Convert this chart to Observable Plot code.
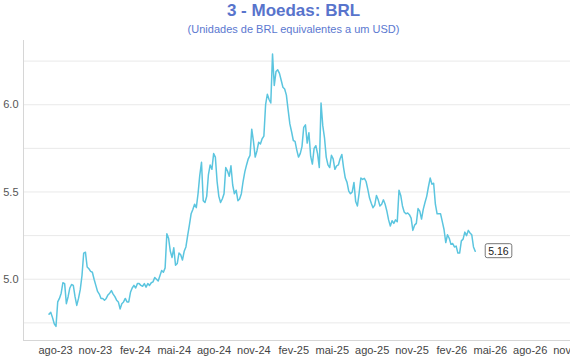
<!DOCTYPE html>
<html><head><meta charset="utf-8">
<script src="https://cdn.jsdelivr.net/npm/d3@7"></script>
<script src="https://cdn.jsdelivr.net/npm/@observablehq/plot@0.6"></script>
<style>
body{margin:0;background:#fff;font-family:"Liberation Sans",Arial,sans-serif;}
#wrap{width:570px;height:360px;position:relative;overflow:hidden;background:#fff}
.title{height:22px;line-height:22px;text-align:center;font-weight:bold;font-size:17px;color:#5874cc;padding-left:17px}
.subtitle{height:14px;line-height:14px;text-align:center;font-size:11px;color:#5b78d0;padding-left:17px}
#chart svg{display:block}
</style></head><body>
<div id="wrap">
<div class="title">3 - Moedas: BRL</div>
<div class="subtitle">(Unidades de BRL equivalentes a um USD)</div>
<div id="chart"></div>
</div>
<script>
// Series: BRL per USD, sampled every 4 days starting at startDate
const startDate = "2023-07-17";
const stepDays = 4;
const brl = [
4.80,4.81,4.78,4.745,4.73,4.87,4.89,4.92,4.98,4.975,
4.86,4.90,4.95,4.97,4.965,4.90,4.85,4.89,4.94,5.02,
5.15,5.155,5.07,5.06,5.045,5.04,5.00,4.965,4.93,4.915,
4.89,4.89,4.88,4.89,4.91,4.92,4.935,4.915,4.90,4.88,
4.87,4.83,4.86,4.87,4.89,4.87,4.87,4.925,4.95,4.965,
4.95,4.975,4.975,4.965,4.96,4.975,4.955,4.975,4.965,4.98,
4.985,5.01,5.00,4.99,5.02,5.05,5.04,5.065,5.26,5.235,
5.16,5.125,5.18,5.08,5.09,5.15,5.14,5.11,5.16,5.185,
5.25,5.31,5.375,5.40,5.43,5.41,5.49,5.595,5.67,5.45,
5.44,5.475,5.60,5.655,5.63,5.72,5.70,5.56,5.475,5.44,
5.46,5.49,5.64,5.62,5.59,5.65,5.54,5.49,5.51,5.45,
5.46,5.49,5.56,5.615,5.655,5.69,5.71,5.86,5.79,5.70,
5.735,5.785,5.775,5.805,5.82,6.00,6.06,6.03,6.01,6.29,
6.11,6.19,6.20,6.18,6.14,6.10,6.09,6.055,5.97,5.89,
5.845,5.795,5.79,5.74,5.70,5.72,5.76,5.87,5.885,5.78,
5.84,5.705,5.66,5.75,5.765,5.72,5.64,6.01,5.88,5.81,
5.70,5.655,5.64,5.71,5.69,5.63,5.65,5.655,5.69,5.715,
5.64,5.58,5.555,5.505,5.49,5.50,5.555,5.445,5.42,5.495,
5.58,5.572,5.578,5.56,5.515,5.465,5.435,5.41,5.425,5.48,
5.455,5.42,5.43,5.455,5.43,5.39,5.34,5.305,5.335,5.32,
5.34,5.33,5.51,5.48,5.42,5.385,5.375,5.38,5.37,5.35,
5.28,5.31,5.32,5.405,5.39,5.345,5.40,5.44,5.475,5.53,
5.58,5.545,5.55,5.43,5.375,5.375,5.375,5.33,5.285,5.21,
5.255,5.235,5.20,5.205,5.185,5.19,5.15,5.15,5.22,5.23,
5.27,5.25,5.28,5.265,5.255,5.185,5.16
];
const yLabelTicks = [5.0, 5.5, 6.0];
const yGridTicks = [4.75, 5.0, 5.25, 5.5, 5.75, 6.0, 6.25];
const xTickDates = ["2023-08-01","2023-11-01","2024-02-01","2024-05-01","2024-08-01","2024-11-01",
  "2025-02-01","2025-05-01","2025-08-01","2025-11-01","2026-02-01","2026-05-01","2026-08-01","2026-11-01"];
const monthAbbr = ["jan","fev","mar","abr","mai","jun","jul","ago","set","out","nov","dez"];
const xDomain = ["2023-05-19","2026-11-02"];
const yDomain = [4.649, 6.368];

const start = new Date(startDate + "T00:00:00Z");
const data = brl.map((v, i) => ({date: d3.utcDay.offset(start, i * stepDays), value: v}));
const last = data[data.length - 1];
const lastLabel = last.value.toFixed(2);
const fmtX = d => monthAbbr[d.getUTCMonth()] + "-" + String(d.getUTCFullYear()).slice(2);

const chart = Plot.plot({
  width: 570, height: 324,
  marginTop: 4, marginRight: 0, marginBottom: 20, marginLeft: 23,
  style: {fontFamily: "'Liberation Sans', Arial, sans-serif", fontSize: "11px", color: "#444", background: "#fff", overflow: "visible"},
  x: {type: "utc", domain: xDomain.map(d => new Date(d + "T00:00:00Z"))},
  y: {domain: yDomain},
  marks: [
    Plot.gridY(yGridTicks, {stroke: "#e9e9e9", strokeOpacity: 1}),
    Plot.ruleY([yDomain[0]], {stroke: "#d6d6d6"}),
    Plot.ruleX([new Date(xDomain[0] + "T00:00:00Z")], {stroke: "#d6d6d6"}),
    Plot.axisY(yLabelTicks, {tickSize: 0, tickPadding: 5, tickFormat: d => d.toFixed(1), label: null, fill: "#555"}),
    Plot.axisX(xTickDates.map(d => new Date(d + "T00:00:00Z")), {tickSize: 0, tickPadding: 6, tickFormat: fmtX, label: null, fill: "#444"}),
    Plot.lineY(data, {x: "date", y: "value", stroke: "#5bc5df", strokeWidth: 1.5}),
    Plot.text([last], {x: "date", y: "value", text: () => lastLabel, dx: 13, textAnchor: "start", fontSize: 10.5, fill: "#222"})
  ]
});
document.getElementById("chart").appendChild(chart);

// draw rounded box behind the end label
for (const t of chart.querySelectorAll("text")) {
  if (t.textContent === lastLabel) {
    const bb = t.getBBox();
    const r = document.createElementNS("http://www.w3.org/2000/svg", "rect");
    r.setAttribute("x", bb.x - 3);
    r.setAttribute("y", bb.y - 1);
    r.setAttribute("width", bb.width + 6);
    r.setAttribute("height", bb.height + 2);
    r.setAttribute("rx", 2);
    r.setAttribute("fill", "#fff");
    r.setAttribute("stroke", "#555");
    r.setAttribute("stroke-width", 0.8);
    if (t.getAttribute("transform")) r.setAttribute("transform", t.getAttribute("transform"));
    t.parentNode.insertBefore(r, t);
  }
}
</script>
</body></html>
